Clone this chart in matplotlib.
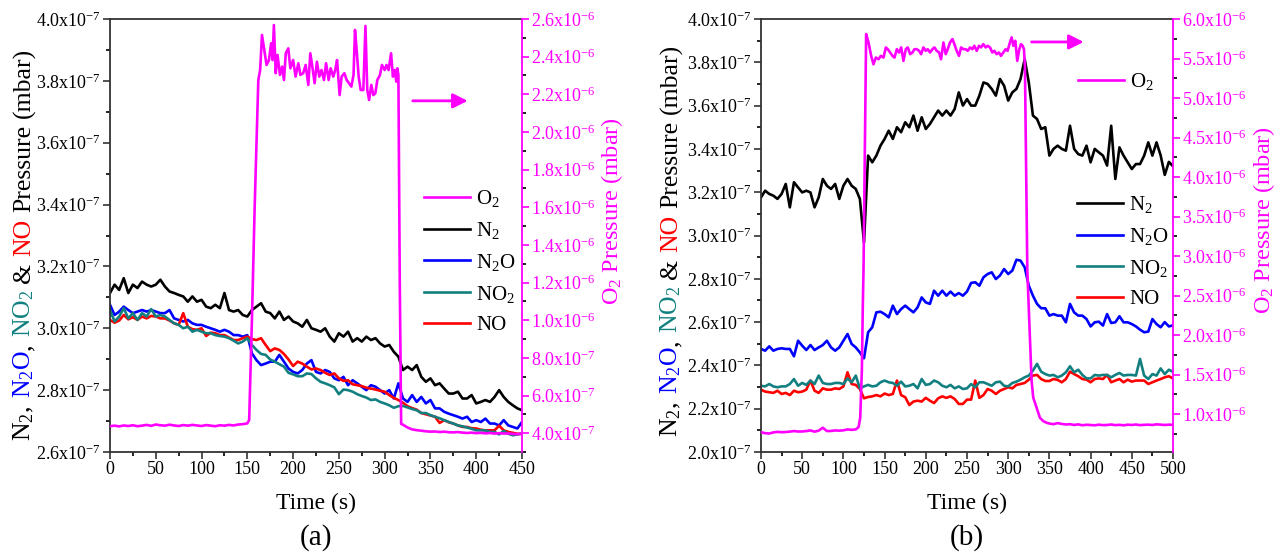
import numpy as np
import matplotlib
matplotlib.use('Agg')
import matplotlib.pyplot as plt
from matplotlib.ticker import MultipleLocator, FuncFormatter

plt.rcParams['font.family'] = 'Liberation Serif'
plt.rcParams['mathtext.fontset'] = 'custom'
plt.rcParams['mathtext.rm'] = 'Liberation Serif'
plt.rcParams['mathtext.it'] = 'Liberation Serif:italic'
plt.rcParams['mathtext.default'] = 'regular'

# ---------------- panel (a) data ----------------
# left axis gases in units of 1e-7 mbar, sampled every 5 s
t_a = np.arange(0, 451, 5)
n2_a = [3.114, 3.141, 3.124, 3.162, 3.114, 3.141, 3.130, 3.151, 3.141, 3.135,
        3.141, 3.157, 3.135, 3.119, 3.114, 3.108, 3.103, 3.086, 3.103, 3.086,
        3.092, 3.070, 3.065, 3.076, 3.065, 3.114, 3.059, 3.054, 3.059, 3.043,
        3.038, 3.059, 3.070, 3.081, 3.054, 3.049, 3.032, 3.054, 3.027, 3.038,
        3.022, 3.016, 3.005, 3.027, 3.000, 2.995, 2.989, 3.000, 2.973, 2.957,
        2.984, 2.973, 2.989, 2.957, 2.968, 2.957, 2.973, 2.962, 2.968, 2.951,
        2.941, 2.946, 2.924, 2.908, 2.865, 2.876, 2.865, 2.881, 2.843, 2.827,
        2.838, 2.816, 2.822, 2.805, 2.789, 2.789, 2.795, 2.773, 2.773, 2.784,
        2.757, 2.762, 2.768, 2.762, 2.778, 2.800, 2.778, 2.762, 2.751, 2.741, 2.735]
n2o_a = [3.076, 3.043, 3.054, 3.070, 3.059, 3.049, 3.054, 3.059, 3.054, 3.059,
         3.054, 3.049, 3.049, 3.059, 3.032, 3.027, 3.022, 3.027, 3.016, 3.011,
         3.011, 3.005, 3.000, 2.995, 2.989, 2.995, 2.989, 2.978, 2.978, 2.973,
         2.978, 2.919, 2.897, 2.881, 2.886, 2.892, 2.892, 2.914, 2.892, 2.870,
         2.859, 2.854, 2.865, 2.886, 2.897, 2.859, 2.854, 2.865, 2.859, 2.838,
         2.832, 2.843, 2.816, 2.832, 2.822, 2.811, 2.800, 2.816, 2.811, 2.800,
         2.789, 2.800, 2.773, 2.822, 2.773, 2.762, 2.784, 2.762, 2.778, 2.757,
         2.768, 2.741, 2.741, 2.730, 2.724, 2.719, 2.714, 2.708, 2.714, 2.697,
         2.703, 2.697, 2.708, 2.692, 2.692, 2.686, 2.703, 2.686, 2.681, 2.676, 2.697]
no2_a = [3.059, 3.022, 3.038, 3.065, 3.032, 3.049, 3.027, 3.049, 3.038, 3.062,
         3.038, 3.043, 3.038, 3.027, 3.016, 3.011, 3.000, 3.005, 2.989, 2.995,
         2.989, 2.984, 2.984, 2.978, 2.975, 2.973, 2.968, 2.960, 2.951, 2.957,
         2.968, 2.946, 2.930, 2.917, 2.914, 2.899, 2.892, 2.884, 2.876, 2.856,
         2.851, 2.845, 2.845, 2.854, 2.852, 2.838, 2.827, 2.822, 2.816, 2.809,
         2.787, 2.802, 2.800, 2.795, 2.787, 2.781, 2.776, 2.768, 2.770, 2.762,
         2.757, 2.751, 2.743, 2.748, 2.749, 2.744, 2.739, 2.735, 2.726, 2.726,
         2.719, 2.714, 2.709, 2.703, 2.697, 2.692, 2.686, 2.683, 2.679, 2.675,
         2.670, 2.670, 2.670, 2.665, 2.665, 2.657, 2.668, 2.659, 2.654, 2.657, 2.659]
no_a = [3.027, 3.018, 3.025, 3.043, 3.029, 3.036, 3.027, 3.038, 3.032, 3.040,
        3.038, 3.032, 3.032, 3.025, 3.016, 3.011, 3.049, 3.005, 2.997, 2.995,
        3.000, 2.975, 2.986, 2.984, 2.978, 2.978, 2.970, 2.962, 2.962, 2.968,
        2.973, 2.965, 2.962, 2.968, 2.946, 2.926, 2.935, 2.930, 2.917, 2.899,
        2.878, 2.892, 2.886, 2.876, 2.867, 2.870, 2.865, 2.856, 2.849, 2.854,
        2.838, 2.830, 2.832, 2.819, 2.816, 2.813, 2.808, 2.805, 2.802, 2.798,
        2.795, 2.784, 2.775, 2.768, 2.759, 2.748, 2.742, 2.737, 2.726, 2.722,
        2.718, 2.714, 2.694, 2.703, 2.696, 2.692, 2.686, 2.681, 2.681, 2.677,
        2.676, 2.672, 2.670, 2.670, 2.670, 2.685, 2.670, 2.665, 2.662, 2.659, 2.659]
# O2 (right axis) in units of 1e-6 mbar
o2_a_t = (list(range(0, 151, 5)) +
          [152, 155, 158, 162, 164, 166, 168.5, 171, 173.6, 176, 177.5, 179, 181, 183,
           185.6, 188, 190, 192, 194.7, 197, 200, 202.7, 205.7, 208, 211, 213.7, 216.6,
           218.8, 221, 223.5, 226, 228.6, 231, 233.7, 236, 238.8, 241, 243.9, 246, 248,
           250.8, 253, 256, 258.5, 261, 263.6, 266, 267.6, 269.4, 271.6, 273.8, 276.7,
           279, 281, 283, 285.4, 287.6, 289.8, 292, 294.9, 297, 300, 302, 304.3, 307,
           309, 311, 312.7, 313.8, 315, 316.5, 318] +
          list(range(320, 451, 5)))
o2_a = [0.437, 0.440, 0.436, 0.441, 0.438, 0.442, 0.437, 0.440, 0.444, 0.439,
        0.446, 0.442, 0.440, 0.445, 0.441, 0.438, 0.443, 0.440, 0.444, 0.441,
        0.438, 0.443, 0.440, 0.437, 0.442, 0.440, 0.444, 0.441, 0.446, 0.448, 0.452,
        0.47, 1.00, 1.60, 2.276, 2.329, 2.515, 2.435, 2.356, 2.382, 2.471, 2.382, 2.568,
        2.312, 2.409, 2.303, 2.347, 2.276, 2.418, 2.444, 2.338, 2.382, 2.294, 2.365,
        2.303, 2.312, 2.356, 2.250, 2.418, 2.347, 2.259, 2.373, 2.294, 2.329, 2.276,
        2.365, 2.276, 2.338, 2.294, 2.329, 2.382, 2.196, 2.294, 2.312, 2.276, 2.259,
        2.241, 2.303, 2.542, 2.435, 2.294, 2.223, 2.223, 2.563, 2.223, 2.170, 2.250,
        2.196, 2.205, 2.276, 2.303, 2.356, 2.329, 2.356, 2.329, 2.418, 2.294, 2.329,
        2.267, 2.338, 2.303, 1.20, 0.449,
        0.445, 0.430, 0.420, 0.416, 0.413, 0.410, 0.408, 0.409, 0.406, 0.408, 0.405,
        0.404, 0.406, 0.403, 0.401, 0.403, 0.400, 0.402, 0.399, 0.401, 0.398, 0.400,
        0.398, 0.399, 0.396, 0.395, 0.397]

# ---------------- panel (b) data ----------------
t_b = np.arange(0, 501, 5)
n2_b = [3.176, 3.207, 3.192, 3.184, 3.169, 3.192, 3.238, 3.130, 3.246, 3.222,
        3.199, 3.207, 3.199, 3.130, 3.176, 3.261, 3.230, 3.215, 3.238, 3.169,
        3.230, 3.261, 3.230, 3.215, 3.169, 2.968, 3.369, 3.338, 3.369, 3.415,
        3.446, 3.484, 3.446, 3.500, 3.477, 3.523, 3.500, 3.554, 3.484, 3.546,
        3.492, 3.515, 3.546, 3.577, 3.554, 3.577, 3.554, 3.584, 3.661, 3.600,
        3.630, 3.600, 3.600, 3.646, 3.707, 3.700, 3.677, 3.646, 3.723, 3.692,
        3.623, 3.661, 3.677, 3.723, 3.815, 3.707, 3.554, 3.538, 3.492, 3.500,
        3.369, 3.400, 3.415, 3.400, 3.392, 3.507, 3.400, 3.376, 3.369, 3.415,
        3.338, 3.400, 3.384, 3.369, 3.323, 3.507, 3.261, 3.407, 3.369, 3.338, 3.307,
        3.330, 3.330, 3.369, 3.430, 3.369, 3.430, 3.370, 3.280, 3.340, 3.320]
n2o_b = [2.476, 2.468, 2.488, 2.468, 2.476, 2.479, 2.476, 2.476, 2.442, 2.514,
         2.491, 2.471, 2.494, 2.471, 2.483, 2.494, 2.514, 2.483, 2.468, 2.483,
         2.514, 2.545, 2.499, 2.483, 2.460, 2.433, 2.553, 2.576, 2.645, 2.648,
         2.637, 2.622, 2.676, 2.637, 2.660, 2.676, 2.660, 2.645, 2.668, 2.714,
         2.691, 2.684, 2.745, 2.722, 2.745, 2.722, 2.741, 2.722, 2.734, 2.722,
         2.741, 2.781, 2.784, 2.768, 2.807, 2.822, 2.830, 2.799, 2.815, 2.845,
         2.822, 2.838, 2.888, 2.884, 2.853, 2.768, 2.722, 2.684, 2.664, 2.664,
         2.630, 2.637, 2.630, 2.630, 2.599, 2.684, 2.645, 2.630, 2.630, 2.614,
         2.580, 2.599, 2.602, 2.584, 2.637, 2.596, 2.599, 2.627, 2.599, 2.599, 2.591,
         2.580, 2.565, 2.553, 2.556, 2.614, 2.591, 2.576, 2.600, 2.580, 2.585]
no2_b = [2.306, 2.303, 2.314, 2.303, 2.299, 2.303, 2.303, 2.314, 2.337, 2.306,
         2.319, 2.310, 2.330, 2.314, 2.353, 2.319, 2.314, 2.314, 2.319, 2.319,
         2.314, 2.340, 2.322, 2.353, 2.294, 2.303, 2.310, 2.303, 2.306, 2.322,
         2.330, 2.322, 2.319, 2.306, 2.325, 2.303, 2.306, 2.314, 2.294, 2.337,
         2.310, 2.314, 2.330, 2.322, 2.306, 2.299, 2.310, 2.294, 2.303, 2.291,
         2.294, 2.314, 2.299, 2.322, 2.322, 2.314, 2.306, 2.322, 2.325, 2.306,
         2.303, 2.319, 2.325, 2.334, 2.345, 2.353, 2.376, 2.407, 2.371, 2.360,
         2.353, 2.356, 2.345, 2.353, 2.368, 2.396, 2.368, 2.380, 2.356, 2.340,
         2.340, 2.356, 2.353, 2.356, 2.356, 2.345, 2.356, 2.365, 2.353, 2.356, 2.356,
         2.353, 2.430, 2.353, 2.337, 2.360, 2.353, 2.386, 2.360, 2.380, 2.370]
no_b = [2.288, 2.279, 2.276, 2.273, 2.283, 2.268, 2.273, 2.263, 2.283, 2.276,
        2.279, 2.288, 2.330, 2.283, 2.273, 2.294, 2.288, 2.288, 2.294, 2.291,
        2.303, 2.368, 2.314, 2.310, 2.291, 2.248, 2.254, 2.257, 2.263, 2.257,
        2.270, 2.263, 2.268, 2.330, 2.263, 2.253, 2.217, 2.233, 2.237, 2.233,
        2.250, 2.237, 2.226, 2.248, 2.257, 2.250, 2.257, 2.245, 2.222, 2.222,
        2.242, 2.242, 2.330, 2.250, 2.263, 2.291, 2.283, 2.268, 2.283, 2.291,
        2.299, 2.294, 2.310, 2.314, 2.319, 2.334, 2.353, 2.356, 2.337, 2.328,
        2.328, 2.337, 2.333, 2.322, 2.337, 2.371, 2.360, 2.350, 2.337, 2.334,
        2.322, 2.337, 2.340, 2.337, 2.356, 2.322, 2.330, 2.337, 2.322, 2.334, 2.325,
        2.330, 2.330, 2.330, 2.314, 2.322, 2.330, 2.337, 2.345, 2.350, 2.340]
o2_b_t = (list(range(0, 116, 5)) +
          [118.4, 120.4, 122.4, 123.6, 124.4, 127.6, 130.5, 133.7, 136.5, 139.4, 142.6,
           145.4, 148.7, 151.5, 153.9, 156.7, 159.6, 162, 164.8, 167.6, 170.1, 172.9,
           175.7, 178.1, 181, 183.8, 186.2, 189, 191.9, 194.3, 197.1, 200, 202.4, 205.2,
           208, 210.5, 213.3, 216.1, 218.5, 221.4, 224.2, 226.6, 229.4, 232.3, 234.7,
           237.5, 240.3, 242.8, 245.6, 248.4, 250.9, 253.7, 256.5, 258.9, 261.8, 264.6,
           267, 269.8, 272.7, 275.1, 277.9, 280.7, 283.2, 286, 288.8, 291.2, 294.1,
           296.9, 299.3, 302.1, 304.2, 306.2, 308.6, 311, 313.5, 315.5, 317.5, 319.1,
           320.3, 323.2, 326.4, 328.4, 330.4, 334.5, 338.5, 342.5, 346.6] +
          list(range(350, 501, 5)))
o2_b = [0.771, 0.758, 0.754, 0.768, 0.775, 0.770, 0.773, 0.778, 0.785, 0.779,
        0.780, 0.785, 0.793, 0.777, 0.790, 0.827, 0.785, 0.786, 0.793, 0.790,
        0.794, 0.806, 0.800, 0.806,
        0.835, 0.954, 1.547, 2.395, 2.819, 5.809, 5.703, 5.533, 5.427, 5.512, 5.491,
        5.533, 5.512, 5.640, 5.618, 5.576, 5.533, 5.512, 5.618, 5.576, 5.640, 5.470,
        5.618, 5.640, 5.555, 5.576, 5.618, 5.618, 5.597, 5.555, 5.640, 5.597, 5.618,
        5.576, 5.618, 5.640, 5.597, 5.576, 5.491, 5.703, 5.555, 5.618, 5.703, 5.746,
        5.682, 5.597, 5.533, 5.640, 5.618, 5.618, 5.597, 5.640, 5.618, 5.661, 5.597,
        5.661, 5.640, 5.682, 5.640, 5.661, 5.640, 5.576, 5.597, 5.555, 5.576, 5.533,
        5.576, 5.618, 5.597, 5.703, 5.767, 5.661, 5.724, 5.470, 5.618, 5.682, 5.661,
        5.618, 5.406, 2.819, 1.971, 1.420, 1.208, 1.081, 0.954, 0.911, 0.890,
        0.880, 0.872, 0.886, 0.875, 0.868, 0.872, 0.862, 0.870, 0.858, 0.865, 0.862,
        0.858, 0.866, 0.860, 0.862, 0.868, 0.860, 0.864, 0.858, 0.866, 0.862, 0.868,
        0.860, 0.864, 0.866, 0.862, 0.870, 0.866, 0.862, 0.866, 0.864]

C_O2 = '#ff00ff'
C_N2 = 'black'
C_N2O = '#0000ff'
C_NO2 = '#128080'
C_NO = '#ff0000'
SPINE = '#333333'

W, H = 1283, 558
fig = plt.figure(figsize=(W / 100, H / 100), dpi=100)


def sci(v, pos):
    if v <= 0:
        return ''
    e = int(np.floor(np.log10(v) + 1e-9))
    return f'{v / 10 ** e:.1f}x10$^{{{e}}}$'


def panel(left_px, t, n2, n2o, no2, no, o2t, o2, xmax, ylo, o2lo, o2hi, o2step):
    ax = fig.add_axes([left_px / W, 1 - 452 / H, 412 / W, 433 / H])
    ax2 = ax.twinx()
    lw = 1.9
    l_n2, = ax.plot(t, np.array(n2) * 1e-7, color=C_N2, lw=lw)
    l_n2o, = ax.plot(t, np.array(n2o) * 1e-7, color=C_N2O, lw=lw)
    l_no, = ax.plot(t, np.array(no) * 1e-7, color=C_NO, lw=lw)
    l_no2, = ax.plot(t, np.array(no2) * 1e-7, color=C_NO2, lw=lw)
    l_o2, = ax2.plot(o2t, np.array(o2) * 1e-6, color=C_O2, lw=lw)

    ax.set_xlim(0, xmax)
    ax.set_ylim(ylo, 4.0e-7)
    ax.xaxis.set_major_locator(MultipleLocator(50))
    ax.xaxis.set_minor_locator(MultipleLocator(25))
    ax.yaxis.set_major_locator(MultipleLocator(0.2e-7))
    ax.yaxis.set_minor_locator(MultipleLocator(0.1e-7))
    ax.yaxis.set_major_formatter(FuncFormatter(sci))
    ax2.set_ylim(o2lo, o2hi)
    ax2.yaxis.set_major_locator(MultipleLocator(o2step))
    ax2.yaxis.set_minor_locator(MultipleLocator(o2step / 2))
    ax2.yaxis.set_major_formatter(FuncFormatter(sci))

    for a in (ax, ax2):
        a.tick_params(which='both', direction='out', width=1.2, labelsize=13, pad=1.5)
        a.tick_params(which='major', length=5)
        a.tick_params(which='minor', length=2.8)
    ax.tick_params(axis='both', colors=SPINE, labelcolor='black')
    ax2.tick_params(axis='y', colors=C_O2, labelcolor=C_O2)
    for s in ('left', 'bottom', 'top'):
        ax.spines[s].set_color(SPINE)
        ax.spines[s].set_linewidth(1.3)
        ax2.spines[s].set_visible(False)
    ax.spines['right'].set_visible(False)
    ax2.spines['right'].set_color(C_O2)
    ax2.spines['right'].set_linewidth(1.3)
    return ax, ax2, (l_o2, l_n2, l_n2o, l_no2, l_no)


def stacked_label(x_px, yc_px, pieces, size):
    # pieces: (text, colour, space before it)
    r = fig.canvas.get_renderer()
    arts = [fig.text(0, 0, s, color=c, fontsize=size, rotation=90,
                     rotation_mode='anchor', ha='left', va='baseline') for s, c, _ in pieces]
    em = size * 100 / 72
    lens = [a.get_window_extent(r).height for a in arts]
    gaps = [g * em for _, _, g in pieces]
    y = (H - yc_px) - (sum(lens) + sum(gaps[1:])) / 2
    for i, (a, L) in enumerate(zip(arts, lens)):
        if i:
            y += gaps[i]
        a.set_position((x_px / W, y / H))
        y += L


names = ['O$_2$', 'N$_2$', 'N$_2$O', 'NO$_2$', 'NO']
leg_kw = dict(frameon=False, fontsize=15, handlelength=2.2, handletextpad=0.3,
              labelspacing=0.52, borderpad=0, borderaxespad=0,
              loc='upper left', bbox_transform=fig.transFigure)

# panel (a)
axa, axa2, la = panel(110, t_a, n2_a, n2o_a, no2_a, no_a, o2_a_t, o2_a,
                      450, 2.6e-7, 3.0e-7, 2.6e-6, 0.2e-6)
axa2.legend(la, names, bbox_to_anchor=(424 / W, 1 - 188 / H), **leg_kw)
axa.annotate('', xy=(0.875, 0.811), xytext=(0.728, 0.811), xycoords='axes fraction',
             arrowprops=dict(arrowstyle='-|>', color=C_O2, lw=2, mutation_scale=22))

# panel (b)
axb, axb2, lb = panel(761, t_b, n2_b, n2o_b, no2_b, no_b, o2_b_t, o2_b,
                      500, 2.0e-7, 0.52e-6, 6.0e-6, 0.5e-6)
axb2.legend(lb[:1], names[:1], bbox_to_anchor=(1078 / W, 1 - 71 / H), **leg_kw)
axb.legend(lb[1:], names[1:], bbox_to_anchor=(1077 / W, 1 - 194 / H), **leg_kw)
axb.annotate('', xy=(0.79, 0.947), xytext=(0.65, 0.947), xycoords='axes fraction',
             arrowprops=dict(arrowstyle='-|>', color=C_O2, lw=2, mutation_scale=22))

pieces = [('N$_2$,', C_N2, 0), ('N$_2$O', C_N2O, 0.27), (',', C_N2, 0.0),
          ('NO$_2$', C_NO2, 0.27), ('&', C_N2, 0.27), ('NO', C_NO, 0.27),
          ('Pressure', C_N2, 0.27), ('(mbar)', C_N2, 0.27)]
stacked_label(30, 244, pieces, 18.5)
stacked_label(677, 240, pieces, 18.5)

fig.text(612 / W, 1 - 211 / H, 'O$_2$ Pressure (mbar)', color=C_O2, fontsize=17.5,
         rotation=90, ha='center', va='center')
fig.text(1264 / W, 1 - 220 / H, 'O$_2$ Pressure (mbar)', color=C_O2, fontsize=17.5,
         rotation=90, ha='center', va='center')

for cx, tag in ((316, '(a)'), (967, '(b)')):
    fig.text(cx / W, 1 - 503 / H, 'Time (s)', fontsize=17, ha='center', va='center')
    fig.text(cx / W, 1 - 538 / H, tag, fontsize=21, ha='center', va='center')

fig.savefig('out.png', dpi=100)
